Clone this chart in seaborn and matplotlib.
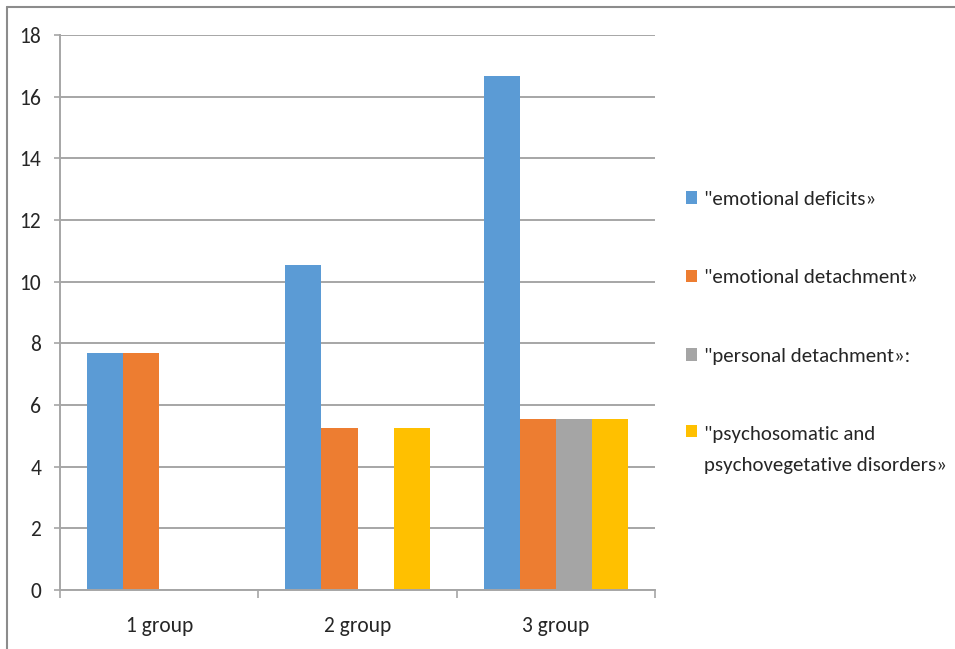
import matplotlib
matplotlib.use("Agg")
import matplotlib.pyplot as plt
from matplotlib.patches import Patch
from matplotlib.lines import Line2D
from matplotlib.legend_handler import HandlerPatch
import seaborn as sns
import pandas as pd

groups = ["1 group", "2 group", "3 group"]
series = [
    "\"emotional deficits»",
    "\"emotional detachment»",
    "\"personal detachment»:",
    "\"psychosomatic and\npsychovegetative disorders»",
]
emotional_deficits = [7.69, 10.53, 16.67]
emotional_detachment = [7.69, 5.26, 5.56]
personal_detachment = [0.0, 0.0, 5.56]
psychosomatic = [0.0, 5.26, 5.56]
colors = ["#5B9BD5", "#ED7D31", "#A5A5A5", "#FFC000"]
y_ticks = [0, 2, 4, 6, 8, 10, 12, 14, 16, 18]

values = [emotional_deficits, emotional_detachment, personal_detachment, psychosomatic]
rows = []
for name, vals in zip(series, values):
    for g, v in zip(groups, vals):
        rows.append({"group": g, "series": name, "value": v})
df = pd.DataFrame(rows)

sns.set_theme(style="white")
plt.rcParams["font.family"] = ["Carlito", "DejaVu Sans"]

FS = 15

fig = plt.figure(figsize=(9.55, 6.49), dpi=100)
ax = fig.add_axes([60 / 955, 1 - 590 / 649, 595 / 955, 555 / 649])

sns.barplot(data=df, x="group", y="value", hue="series", order=groups,
            hue_order=series, palette=colors, saturation=1, width=0.727,
            linewidth=0, errorbar=None, ax=ax)
ax.get_legend().remove()

grid_c = "#A6A6A6"
text_c = "#262626"
ax.set_ylim(0, 18)
ax.set_xlim(-0.5, 2.5)
ax.set_yticks(y_ticks)
ax.set_yticklabels([str(t) for t in y_ticks])
ax.yaxis.grid(True, color=grid_c, linewidth=1.4)
ax.set_axisbelow(True)
ax.set_xlabel("")
ax.set_ylabel("")

for s in ["top", "right"]:
    ax.spines[s].set_visible(False)
for s in ["left", "bottom"]:
    ax.spines[s].set_color(grid_c)
    ax.spines[s].set_linewidth(1.4)

ax.tick_params(axis="y", left=True, length=4.5, width=1.2, color=grid_c,
               pad=9, labelsize=FS + 0.5, labelcolor=text_c)
ax.tick_params(axis="x", bottom=False, pad=13, labelsize=FS + 0.5, labelcolor=text_c)
ax.set_xticks([-0.5, 0.5, 1.5, 2.5], minor=True)
ax.tick_params(axis="x", which="minor", bottom=True, length=6, width=1.2, color=grid_c)


class TopLinePatch(HandlerPatch):
    """Legend swatch placed beside the first line of a two-line label."""

    def __init__(self, shift, **kw):
        super().__init__(**kw)
        self.shift = shift

    def create_artists(self, legend, orig_handle, xdescent, ydescent, width,
                       height, fontsize, trans):
        return super().create_artists(legend, orig_handle, xdescent,
                                      ydescent - self.shift, width, height,
                                      fontsize, trans)


handles = [Patch(facecolor=c, edgecolor="none") for c in colors]
leg = fig.legend(handles, series, loc="upper left",
                 bbox_to_anchor=(686 / 955, 1 - 191 / 649),
                 frameon=False, fontsize=FS, handlelength=0.55, handleheight=0.55,
                 handletextpad=0.3, labelspacing=2.95, borderaxespad=0, borderpad=0,
                 labelcolor=text_c, handler_map={handles[3]: TopLinePatch(13.5)})
leg.get_texts()[-1].set_linespacing(1.95)

# thin frame along the top and left edges of the figure
fig.add_artist(Line2D([7 / 955, 1.01], [1 - 6.5 / 649, 1 - 6.5 / 649], color="#8C8C8C",
                      linewidth=1.5, transform=fig.transFigure))
fig.add_artist(Line2D([7 / 955, 7 / 955], [-0.01, 1 - 6.5 / 649], color="#8C8C8C",
                      linewidth=1.5, transform=fig.transFigure))

fig.savefig("out.png", dpi=100, facecolor="white")
